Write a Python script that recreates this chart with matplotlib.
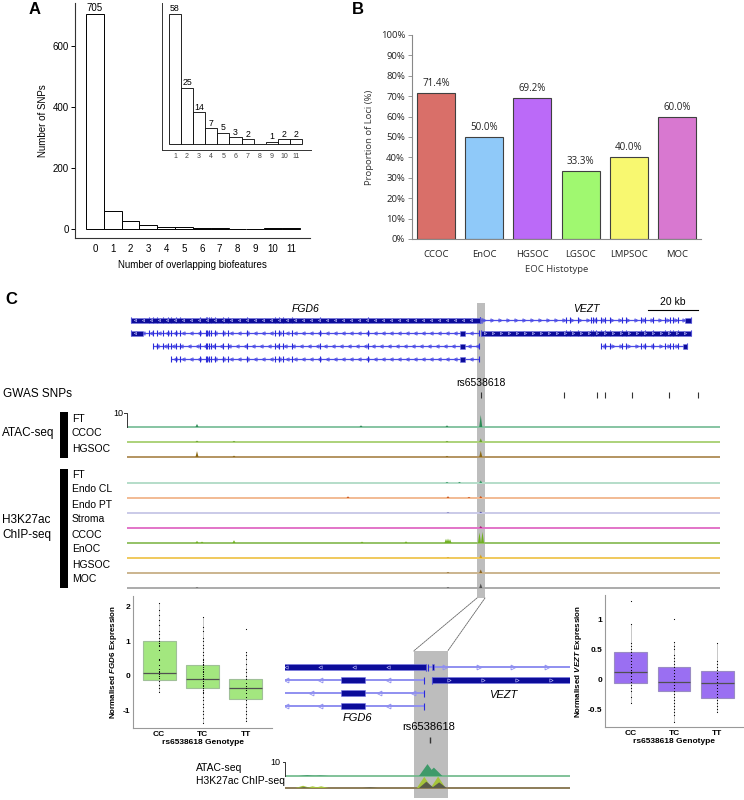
import matplotlib
matplotlib.use("Agg")
import matplotlib.pyplot as plt
import numpy as np
from matplotlib.patches import Rectangle, ConnectionPatch

plt.rcParams['font.family'] = ['Liberation Sans', 'DejaVu Sans']
plt.rcParams['mathtext.fontset'] = 'custom'
plt.rcParams['mathtext.it'] = 'Liberation Sans:italic:bold'
plt.rcParams['mathtext.rm'] = 'Liberation Sans:bold'

# ---------------- data ----------------
# A: SNPs by number of overlapping biofeatures
n_overlaps = [0, 1, 2, 3, 4, 5, 6, 7, 8, 9, 10, 11]
n_snps = [705, 58, 25, 14, 7, 5, 3, 2, 0, 1, 2, 2]

# B: proportion of loci per histotype
histotypes = ["CCOC", "EnOC", "HGSOC", "LGSOC", "LMPSOC", "MOC"]
prop_loci = [71.4, 50.0, 69.2, 33.3, 40.0, 60.0]
hist_colors = ["#d96f69", "#8fc9f9", "#bb6af8", "#a0f870", "#f8f870", "#d878d0"]

# C: locus, kb from window start
region_kb = (0.0, 237.2)
highlight_kb = (140.0, 143.2)
zoom_kb = (127.9, 154.7)
lead_snp = "rs6538618"
lead_kb = 141.5
gwas_snp_kb = [141.5, 174.8, 188.0, 191.2, 202.0, 216.8, 228.4]

fgd6_exons = [8.9, 10.3, 11.9, 14.5, 16.5, 17.6, 19.6, 21.2, 29.2, 31.6, 32.1, 32.9,
              33.5, 35.2, 38.3, 40.5, 47.9, 59.2, 60.9, 62.3, 65.9, 77.2, 96.5]
vezt_exons = [175.6, 177.2, 180.5, 185.5, 186.5, 187.6, 189.6, 191.2, 193.2, 197.9,
              199.6, 205.5, 207.2, 210.3, 215.2, 217.2, 218.5, 220.5]

tx_gene = ["FGD6", "FGD6", "FGD6", "FGD6", "VEZT", "VEZT", "VEZT"]
tx_row = [0, 1, 2, 3, 0, 1, 2]
tx_start = [1.6, 1.6, 10.3, 17.6, 141.3, 141.7, 189.6]
tx_end = [141.2, 141.0, 141.0, 141.0, 225.6, 225.6, 224.0]
tx_strand = ["-", "-", "-", "-", "+", "+", "+"]
tx_thick = [[(1.6, 141.2)], [(1.6, 6.4), (133.2, 135.4)], [(133.2, 135.4)], [(133.2, 135.4)],
            [(141.7, 141.95), (223.2, 225.6)], [(141.7, 225.6)], [(222.4, 224.0)]]

atac_names = ["FT", "CCOC", "HGSOC"]
atac_line = ["#86c4a2", "#acd27a", "#b39460"]
atac_peak = ["#2e8b57", "#6aa030", "#8b6914"]
atac_peaks = [[(28.0, 2.2), (93.6, 1.2), (128.0, 1.2), (141.5, 8.6)],
              [(28.0, 1.0), (42.8, 0.8), (128.0, 0.8), (141.5, 2.6)],
              [(28.0, 4.2), (42.8, 1.0), (128.0, 0.8), (141.5, 4.5)]]

h3_names = ["FT", "Endo CL", "Endo PT", "Stroma", "CCOC", "EnOC", "HGSOC", "MOC"]
h3_line = ["#b4ddc9", "#f2bb94", "#cacae8", "#e274c8", "#94c266", "#f0c95c", "#cbb48e", "#ababab"]
h3_peak = ["#3a9a6a", "#d0561a", "#6060b0", "#b02080", "#70b020", "#d4a020", "#8b6420", "#505050"]
h3_peaks = [[(128.0, 0.8), (133.0, 0.8), (141.5, 1.8)],
            [(88.4, 1.2), (128.4, 1.3), (136.8, 0.8), (141.5, 1.5)],
            [(128.4, 0.5), (141.5, 1.0)],
            [(141.5, 1.5)],
            [(28.0, 1.5), (30.0, 1.0), (42.8, 2.0), (94.0, 1.0), (111.6, 1.2), (127.6, 3.0),
             (128.4, 3.2), (129.2, 2.8), (141.0, 7.5), (142.2, 8.0)],
            [(128.4, 0.6), (141.5, 2.5)],
            [(128.4, 0.6), (141.5, 2.5)],
            [(28.0, 0.5), (128.4, 0.6), (141.5, 3.2)]]

zoom_atac_peaks = [(130.0, 0.6), (131.2, 0.4), (141.3, 8.5), (141.9, 6.0)]
zoom_h3_green = [(129.6, 1.6), (130.5, 1.2), (131.3, 1.2), (141.0, 8.0), (142.3, 8.2)]
zoom_h3_gray = [(129.7, 0.6), (135.9, 0.4), (141.2, 4.5), (142.4, 4.0)]

# eQTL boxplots (box stats)
genotypes = ["CC", "TC", "TT"]
fgd6_q1 = [-0.12, -0.35, -0.65]
fgd6_med = [0.08, -0.10, -0.35]
fgd6_q3 = [1.00, 0.30, -0.08]
fgd6_lo = [-0.45, -1.35, -1.30]
fgd6_hi = [2.10, 1.70, 0.70]
fgd6_pts = [
    [2.1, 1.9, 1.75, 1.6, 1.45, 1.3, 1.2, 1.1, 1.0, 0.95, 0.9, 0.85, 0.75, 0.5, 0.45, 0.3,
     0.2, 0.15, 0.1, 0.05, 0.0, -0.05, -0.15, -0.25, -0.35, -0.45],
    [1.7, 1.4, 1.3, 1.1, 1.0, 0.9, 0.8, 0.7, 0.6, 0.5, 0.45, 0.4, 0.35, 0.3, 0.25, 0.2, 0.15,
     0.1, 0.05, 0.0, -0.05, -0.1, -0.15, -0.2, -0.25, -0.3, -0.35, -0.4, -0.45, -0.5, -0.6,
     -0.7, -0.8, -0.9, -1.0, -1.1, -1.2, -1.35],
    [1.35, 0.7, 0.6, 0.5, 0.35, 0.2, 0.1, 0.0, -0.1, -0.2, -0.3, -0.35, -0.4, -0.5, -0.6,
     -0.7, -0.8, -0.9, -1.0, -1.1, -1.2, -1.3]]
vezt_q1 = [-0.07, -0.20, -0.31]
vezt_med = [0.12, -0.05, -0.07]
vezt_q3 = [0.45, 0.20, 0.13]
vezt_lo = [-0.40, -0.72, -0.55]
vezt_hi = [0.92, 0.62, 0.60]
vezt_pts = [
    [1.3, 0.92, 0.6, 0.55, 0.5, 0.45, 0.4, 0.35, 0.3, 0.25, 0.2, 0.15, 0.12, 0.1, 0.05, 0.0,
     -0.05, -0.1, -0.15, -0.2, -0.3, -0.4],
    [1.0, 0.62, 0.55, 0.5, 0.4, 0.35, 0.3, 0.25, 0.2, 0.15, 0.1, 0.05, 0.0, -0.05, -0.1,
     -0.15, -0.2, -0.25, -0.3, -0.35, -0.4, -0.45, -0.5, -0.55, -0.6, -0.72],
    [0.6, 0.3, 0.25, 0.2, 0.15, 0.1, 0.05, 0.0, -0.05, -0.1, -0.15, -0.2, -0.25, -0.3,
     -0.35, -0.4, -0.45, -0.5, -0.55]]

# ---------------- layout helpers ----------------
W, H = 744, 800
fig = plt.figure(figsize=(7.44, 8.0), dpi=100)


def px_axes(x0, y0, x1, y1):
    return fig.add_axes([x0 / W, 1 - y1 / H, (x1 - x0) / W, (y1 - y0) / H])


SIG_PX = 1.4  # pixels per signal unit (10 -> 14 px)
B_FONT = "Open Sans"

# ---------------- panel A ----------------
axA = px_axes(75, 3, 310, 238)
axA.bar(n_overlaps, n_snps, width=1.0, color="white", edgecolor="black", linewidth=0.7)
axA.text(n_overlaps[0], n_snps[0] + 4, str(n_snps[0]), ha="center", va="bottom", fontsize=7)
axA.set_xlim(-1.12, 12.07)
axA.set_ylim(-29.5, 741)
axA.set_xticks(n_overlaps)
axA.set_yticks([0, 200, 400, 600])
axA.tick_params(axis="x", length=0, labelsize=7, pad=4.5)
axA.tick_params(axis="y", length=3, width=0.7, labelsize=7, pad=1.5)
axA.set_xlabel("Number of overlapping biofeatures", fontsize=7, labelpad=4)
axA.set_ylabel("Number of SNPs", fontsize=7, labelpad=3)
for s in ["top", "right"]:
    axA.spines[s].set_visible(False)
for s in ["left", "bottom"]:
    axA.spines[s].set_linewidth(0.8)
    axA.spines[s].set_color("#333333")

axI = px_axes(162, 3, 311, 150)
axI.bar(n_overlaps[1:], n_snps[1:], width=1.0, color="white", edgecolor="black", linewidth=0.6)
for x, v in zip(n_overlaps[1:], n_snps[1:]):
    if v > 0:
        axI.text(x, v + 0.3, str(v), ha="center", va="bottom", fontsize=6.3)
axI.set_xlim(-0.07, 12.24)
axI.set_ylim(-2.7, 62.7)
axI.set_xticks(n_overlaps[1:])
axI.set_yticks([])
axI.tick_params(axis="x", length=0, labelsize=5, pad=2.5, labelcolor="#444444")
for s in ["top", "right"]:
    axI.spines[s].set_visible(False)
for s in ["left", "bottom"]:
    axI.spines[s].set_linewidth(0.7)
    axI.spines[s].set_color("#333333")

# ---------------- panel B ----------------
axB = px_axes(412, 35, 701, 239)
xb = np.arange(len(histotypes))
axB.bar(xb, prop_loci, width=0.79, color=hist_colors, edgecolor="#404040", linewidth=0.8)
for x, v in zip(xb, prop_loci):
    axB.text(x, v + 2.0, f"{v:.1f}%", ha="center", va="bottom", fontsize=7,
             family=B_FONT, color="#222222")
axB.set_xlim(-0.5, len(histotypes) - 0.5)
axB.set_ylim(0, 100)
axB.set_yticks(range(0, 101, 10))
axB.set_yticklabels([f"{v}%" for v in range(0, 101, 10)], family=B_FONT)
axB.set_xticks(xb)
axB.set_xticklabels(histotypes, family=B_FONT)
axB.tick_params(axis="y", length=3, width=0.6, color="#888888", labelsize=6.8, pad=2,
                labelcolor="#222222")
axB.tick_params(axis="x", length=0, labelsize=6.8, pad=8, labelcolor="#222222")
axB.set_xlabel("EOC Histotype", fontsize=6.8, family=B_FONT, labelpad=4, color="#333333")
axB.set_ylabel("Proportion of Loci (%)", fontsize=6.8, family=B_FONT, labelpad=5,
               color="#333333")
for s in ["top", "right"]:
    axB.spines[s].set_visible(False)
for s in ["left", "bottom"]:
    axB.spines[s].set_color("#888888")
    axB.spines[s].set_linewidth(0.8)


# ---------------- panel C: genome tracks ----------------
def draw_transcripts(ax, rows_y, line_col, line_w, chev_ms, half_thick, half_tick):
    for gene, row, start, end, strand, thick in zip(tx_gene, tx_row, tx_start, tx_end,
                                                    tx_strand, tx_thick):
        y = rows_y[row]
        exons = fgd6_exons if gene == "FGD6" else vezt_exons
        mk = "<" if strand == "-" else ">"
        ax.plot([start, end], [y, y], color=line_col, lw=line_w, solid_capstyle="butt", zorder=2)
        chev = np.arange(start + 1.6, end - 0.8, 3.2)
        ax.plot(chev, [y] * len(chev), ls="none", marker=mk, ms=chev_ms, mew=0.6,
                mfc="none", mec=line_col, zorder=2)
        ticks = [e for e in exons if start < e < end] + [start, end]
        ax.vlines(ticks, y - half_tick, y + half_tick, color="#2a2ad8", lw=0.8, zorder=3)
        for s, e in thick:
            ax.add_patch(Rectangle((s, y - half_thick), e - s, 2 * half_thick,
                                   facecolor="#0c0c9a", edgecolor="#7a7ae6", lw=0.4, zorder=4))
            if e - s > 4:
                wc = np.arange(s + 1.6, e - 0.8, 3.2)
                ax.plot(wc, [y] * len(wc), ls="none", marker=mk, ms=chev_ms * 0.7, mew=0.4,
                        mfc="none", mec="#c8c8ff", zorder=5)


def draw_peaks(ax, base, peaks, color, half_w):
    for k, h in peaks:
        ax.fill([k - half_w, k, k + half_w], [base, base - h * SIG_PX, base],
                color=color, lw=0, zorder=3)


axg = px_axes(127, 300, 720, 598)
axg.set_xlim(*region_kb)
axg.set_ylim(598, 300)
axg.axis("off")
axg.add_patch(Rectangle((highlight_kb[0], 303), highlight_kb[1] - highlight_kb[0], 295,
                        color="#bdbdbd", lw=0, zorder=0))

gene_rows = [320, 333, 346, 359]
draw_transcripts(axg, gene_rows, "#4b4be6", 0.9, 2.4, 2.5, 3.0)
axg.text(71.6, 309, "FGD6", ha="center", va="center", fontsize=7.5, style="italic")
axg.text(183.6, 309, "VEZT", ha="center", va="center", fontsize=7.5, style="italic")
axg.plot([208.4, 228.4], [310, 310], color="black", lw=0.8)
axg.text(218.4, 302, "20 kb", ha="center", va="center", fontsize=7.5)

axg.text(lead_kb, 383, lead_snp, ha="center", va="center", fontsize=7.5, zorder=6)
axg.vlines(gwas_snp_kb, 392, 398, color="#333333", lw=0.8, zorder=6)

atac_base = [427 + 15 * i for i in range(len(atac_names))]
h3_base = [483 + 15 * i for i in range(len(h3_names))]
for b, lc, pc, pk in zip(atac_base + h3_base, atac_line + h3_line, atac_peak + h3_peak,
                         atac_peaks + h3_peaks):
    axg.plot(region_kb, [b, b], color=lc, lw=1.4, solid_capstyle="butt", zorder=2)
    draw_peaks(axg, b, pk, pc, 0.6)
# scale bracket "10"
b0 = atac_base[0]
axg.plot([-1.0, 0, 0], [b0 - 10 * SIG_PX, b0 - 10 * SIG_PX, b0], color="#333333", lw=0.7,
         clip_on=False)
axg.text(-1.6, b0 - 10 * SIG_PX, "10", ha="right", va="center", fontsize=6.5)

# ---------------- zoomed view ----------------
axz = px_axes(285, 651, 570, 798)
axz.set_xlim(*zoom_kb)
axz.set_ylim(798, 651)
axz.axis("off")
axz.axvspan(*highlight_kb, color="#bdbdbd", lw=0, zorder=0)
zoom_rows = [667, 680, 693, 706]
draw_transcripts(axz, zoom_rows, "#8f8ff0", 1.4, 3.5, 2.8, 3.5)
axz.text(134.7, 718, "FGD6", ha="center", va="center", fontsize=8, style="italic")
axz.text(148.4, 695, "VEZT", ha="center", va="center", fontsize=8, style="italic")
axz.text(lead_kb - 0.1, 727, lead_snp, ha="center", va="center", fontsize=8, zorder=6)
axz.vlines([lead_kb], 737, 743, color="#333333", lw=1.0, zorder=6)
zb_atac, zb_h3 = 776, 788
axz.plot(zoom_kb, [zb_atac, zb_atac], color="#6cb888", lw=1.2, zorder=2)
axz.plot(zoom_kb, [zb_h3, zb_h3], color="#8c7c58", lw=1.4, zorder=2)
draw_peaks(axz, zb_atac, zoom_atac_peaks, "#3f9a6a", 0.8)
draw_peaks(axz, zb_h3, zoom_h3_green, "#a5c43a", 0.7)
draw_peaks(axz, zb_h3, zoom_h3_gray, "#5a5a48", 0.7)
axz.plot([zoom_kb[0] - 0.2, zoom_kb[0], zoom_kb[0]],
         [zb_atac - 10 * SIG_PX, zb_atac - 10 * SIG_PX, zb_atac],
         color="#333333", lw=0.7, clip_on=False)
axz.text(zoom_kb[0] - 0.4, zb_atac - 10 * SIG_PX, "10", ha="right", va="center", fontsize=6.5)

for xk in highlight_kb:
    con = ConnectionPatch(xyA=(xk, 598), coordsA=axg.transData, xyB=(xk, 651),
                          coordsB=axz.transData, color="#666666", lw=0.6, ls=(0, (2, 1)))
    fig.add_artist(con)


# ---------------- eQTL boxplots ----------------
def eqtl_box(ax, q1, med, q3, lo, hi, pts, face, edge, ylim, yticks, ylabels, gene):
    stats = [dict(q1=a, med=m, q3=c, whislo=l, whishi=h, fliers=[])
             for a, m, c, l, h in zip(q1, med, q3, lo, hi)]
    pos = [1, 2, 3]
    ax.bxp(stats, positions=pos, widths=0.76, patch_artist=True, showcaps=False,
           boxprops=dict(facecolor=face, edgecolor=edge, lw=0.8),
           medianprops=dict(color="#505050", lw=0.9),
           whiskerprops=dict(color="#b0b0b0", lw=0.5))
    for p, vals in zip(pos, pts):
        ax.scatter([p] * len(vals), vals, s=0.7, color="black", lw=0, zorder=4)
    ax.set_xlim(0.4, 3.6)
    ax.set_ylim(*ylim)
    ax.set_xticks(pos)
    ax.set_xticklabels(genotypes, fontweight="bold")
    ax.set_yticks(yticks)
    ax.set_yticklabels(ylabels, fontweight="bold")
    ax.tick_params(length=0, labelsize=6, pad=2)
    ax.set_xlabel("rs6538618 Genotype", fontsize=6, fontweight="bold", labelpad=1)
    ax.set_ylabel(f"Normalised $\\it{{{gene}}}$ Expression", fontsize=5.8,
                  fontweight="bold", labelpad=3)
    for s in ["top", "right"]:
        ax.spines[s].set_visible(False)
    for s in ["left", "bottom"]:
        ax.spines[s].set_color("#999999")
        ax.spines[s].set_linewidth(0.8)


axF = px_axes(133, 596, 272, 728)
eqtl_box(axF, fgd6_q1, fgd6_med, fgd6_q3, fgd6_lo, fgd6_hi, fgd6_pts, "#a3e77f", "#a0c098",
         (-1.49, 2.29), [-1, 0, 1, 2], ["-1", "0", "1", "2"], "FGD6")
axV = px_axes(605, 595, 743, 727)
eqtl_box(axV, vezt_q1, vezt_med, vezt_q3, vezt_lo, vezt_hi, vezt_pts, "#9a6ff2", "#9a8cc4",
         (-0.8, 1.4), [-0.5, 0, 0.5, 1], ["-0.5", "0", "0.5", "1"], "VEZT")

# ---------------- annotation overlay (labels, brackets) ----------------
ov = px_axes(0, 0, W, H)
ov.set_xlim(0, W)
ov.set_ylim(H, 0)
ov.axis("off")
ov.text(35, 10, "A", fontsize=12, fontweight="bold", ha="center", va="center")
ov.text(358, 10, "B", fontsize=12, fontweight="bold", ha="center", va="center")
ov.text(11, 300, "C", fontsize=12, fontweight="bold", ha="center", va="center")

ov.text(3, 394, "GWAS SNPs", fontsize=8.5, va="center")
ov.text(2, 433, "ATAC-seq", fontsize=8.5, va="center")
ov.text(2, 520, "H3K27ac", fontsize=8.5, va="center")
ov.text(2, 535, "ChIP-seq", fontsize=8.5, va="center")
ov.add_patch(Rectangle((60, 412), 8, 46, color="black", lw=0))
ov.add_patch(Rectangle((60, 469), 8, 119, color="black", lw=0))
for name, b in zip(atac_names + h3_names, atac_base + h3_base):
    ov.text(72, b - 8.5, name, fontsize=7.5, va="center")
ov.text(196, 768, "ATAC-seq", fontsize=7.5, va="center")
ov.text(196, 781, "H3K27ac ChIP-seq", fontsize=7.5, va="center")

fig.savefig("out.png", dpi=100)
